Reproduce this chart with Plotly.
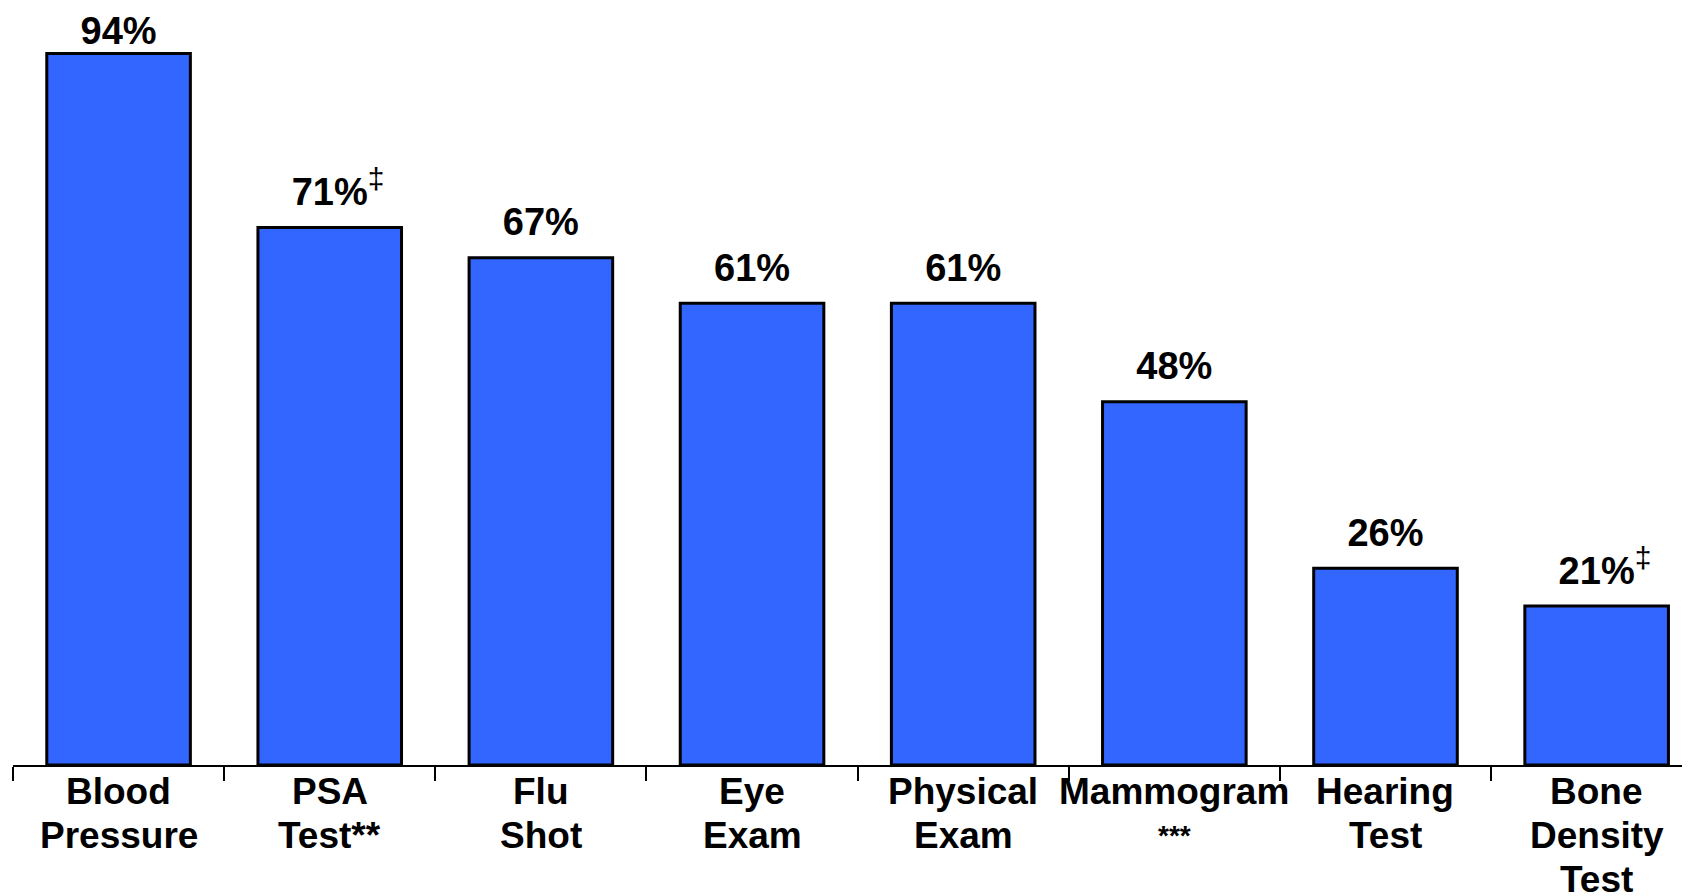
import plotly.graph_objects as go

categories = ["Blood<br>Pressure", "PSA<br>Test**", "Flu<br>Shot", "Eye<br>Exam",
              "Physical<br>Exam", "Mammogram<br><span style='font-size:28px'>***</span>",
              "Hearing<br>Test", "Bone<br>Density<br>Test"]
values = [94, 71, 67, 61, 61, 48, 26, 21]
notes = ["", "‡", "", "", "", "", "", "‡"]

NOTE = "<sup><span style='font-size:30px;font-weight:normal{c}'>{n}</span></sup>"


def make_label(v, n):
    if not n:
        return f"{v}%"
    # invisible copy on the left keeps the percentage itself centred on the bar
    return NOTE.format(c=";fill:rgba(0,0,0,0)", n=n) + f"{v}%" + NOTE.format(c="", n=n)


labels = [make_label(v, n) for v, n in zip(values, notes)]
# labels close to the top edge get no extra offset so they stay inside the page
offsets = [0 if v > 90 else 19 for v in values]

fig = go.Figure()
fig.add_trace(go.Bar(
    x=categories, y=values,
    width=0.68, cliponaxis=False,
    marker=dict(color="#3366FF", line=dict(color="black", width=3)),
))
fig.add_trace(go.Scatter(
    x=categories, y=values, mode="markers+text", text=labels, textposition="top center",
    cliponaxis=False, hoverinfo="skip",
    marker=dict(size=offsets, color="rgba(0,0,0,0)", line=dict(width=0)),
    textfont=dict(family="Liberation Sans", size=38, color="black", weight="bold"),
))

# category labels drawn line by line for tight line spacing
for cat in categories:
    for i, line in enumerate(cat.split("<br>")):
        fig.add_annotation(
            x=cat, xref="x", y=0, yref="paper", yanchor="middle",
            yshift=-26 - 44 * i, showarrow=False, text=line,
            font=dict(family="Liberation Sans", size=37, color="black", weight="bold"),
        )

fig.update_layout(
    width=1690, height=896,
    margin=dict(l=5, r=0, t=0, b=139),
    paper_bgcolor="white", plot_bgcolor="white",
    showlegend=False,
    font=dict(family="Liberation Sans", color="black"),
)
fig.update_xaxes(
    type="category", range=[-0.5, 7.48], automargin=False, tickangle=0,
    showline=True, linecolor="black", linewidth=2,
    ticks="outside", tickson="boundaries", ticklen=14, tickwidth=2, tickcolor="black",
    showticklabels=False, showgrid=False,
)
fig.update_yaxes(range=[0, 100], visible=False, showgrid=False, automargin=False)

fig.write_html("out.html")
